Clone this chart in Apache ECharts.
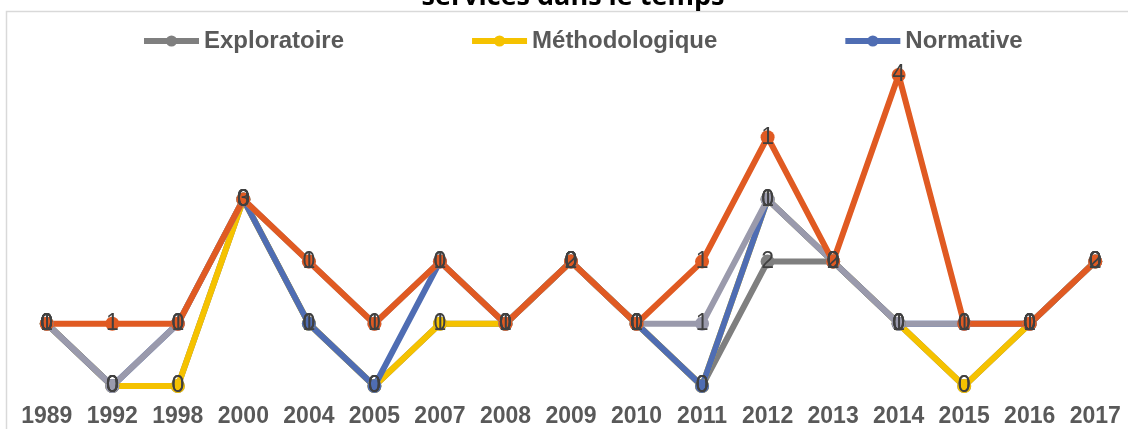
<!DOCTYPE html>
<html>
<head>
<meta charset="utf-8">
<script src="https://cdn.jsdelivr.net/npm/echarts@6/dist/echarts.min.js"></script>
<style>
  html, body { margin: 0; padding: 0; background: #fff; }
  #chart { width: 1128px; height: 429px; }
</style>
</head>
<body>
<div id="chart"></div>
<script>
var years = ['1989', '1992', '1998', '2000', '2004', '2005', '2007', '2008', '2009',
	'2010', '2011', '2012', '2013', '2014', '2015', '2016', '2017'];
var exploratoire   = [1, 0, 0, 3, 1, 0, 1, 1, 2, 1, 0, 2, 2, 1, 0, 1, 2];
var methodologique = [0, 0, 0, 0, 0, 0, 0, 0, 0, 0, 0, 1, 0, 0, 0, 0, 0];
var normative      = [0, 0, 1, 0, 0, 0, 1, 0, 0, 0, 0, 0, 0, 0, 1, 0, 0];
var serie4         = [0, 0, 0, 0, 1, 1, 0, 0, 0, 0, 1, 0, 0, 0, 0, 0, 0];
var serie5         = [0, 1, 0, 0, 0, 0, 0, 0, 0, 0, 1, 1, 0, 4, 0, 0, 0];

var chart = echarts.init(document.getElementById('chart'));

function serie(name, data, color) {
	return {
		name: name,
		type: 'line',
		stack: 'total',			// courbes empilees
		data: data,
		clip: false,
		symbol: 'circle',
		symbolSize: 14,
		itemStyle: { color: color },
		lineStyle: { color: color, width: 6 },
		label: {
			show: true,
			position: 'inside',
			color: '#404040',
			fontSize: 23,
			fontFamily: 'Liberation Sans'
		},
		emphasis: { disabled: true }
	};
}

var option = {
	animation: false,
	graphic: [{
		type: 'rect',
		shape: { x: 6.5, y: 11.5, width: 1200, height: 600 },
		style: { fill: 'none', stroke: '#D9D9D9', lineWidth: 1.5 },
		z: -1
	}, {
		type: 'text',
		x: 573,
		y: 11,
		style: {
			text: 'services dans le temps',
			fill: '#000',
			font: 'bold 27px "Open Sans"',
			textAlign: 'center',
			textVerticalAlign: 'bottom'
		}
	}],
	legend: {
		data: ['Exploratoire', 'Méthodologique', 'Normative'],
		left: 136,
		top: 24,
		itemGap: 125,
		itemWidth: 55,
		itemHeight: 14,
		lineStyle: { width: 6 },
		textStyle: {
			color: '#595959',
			fontSize: 24,
			fontWeight: 'bold',
			fontFamily: 'Liberation Sans'
		}
	},
	grid: { left: 14, right: 0, top: 75, bottom: 43 },
	xAxis: {
		type: 'category',
		data: years,
		axisLine: { show: false },
		axisTick: { show: false },
		axisLabel: {
			interval: 0,
			margin: 19,
			color: '#595959',
			fontSize: 23,
			fontWeight: 'bold',
			fontFamily: 'Liberation Sans'
		}
	},
	yAxis: {
		type: 'value',
		min: 0,
		max: 5,
		show: false,
		splitLine: { show: false }
	},
	series: [
		serie('Exploratoire', exploratoire, '#7F7F7F'),
		serie('Méthodologique', methodologique, '#F5C200'),
		serie('Normative', normative, '#4F6DB3'),
		serie('Série 4', serie4, '#9A9AAC'),
		serie('Série 5', serie5, '#E05A22')
	]
};

chart.setOption(option);
</script>
</body>
</html>
